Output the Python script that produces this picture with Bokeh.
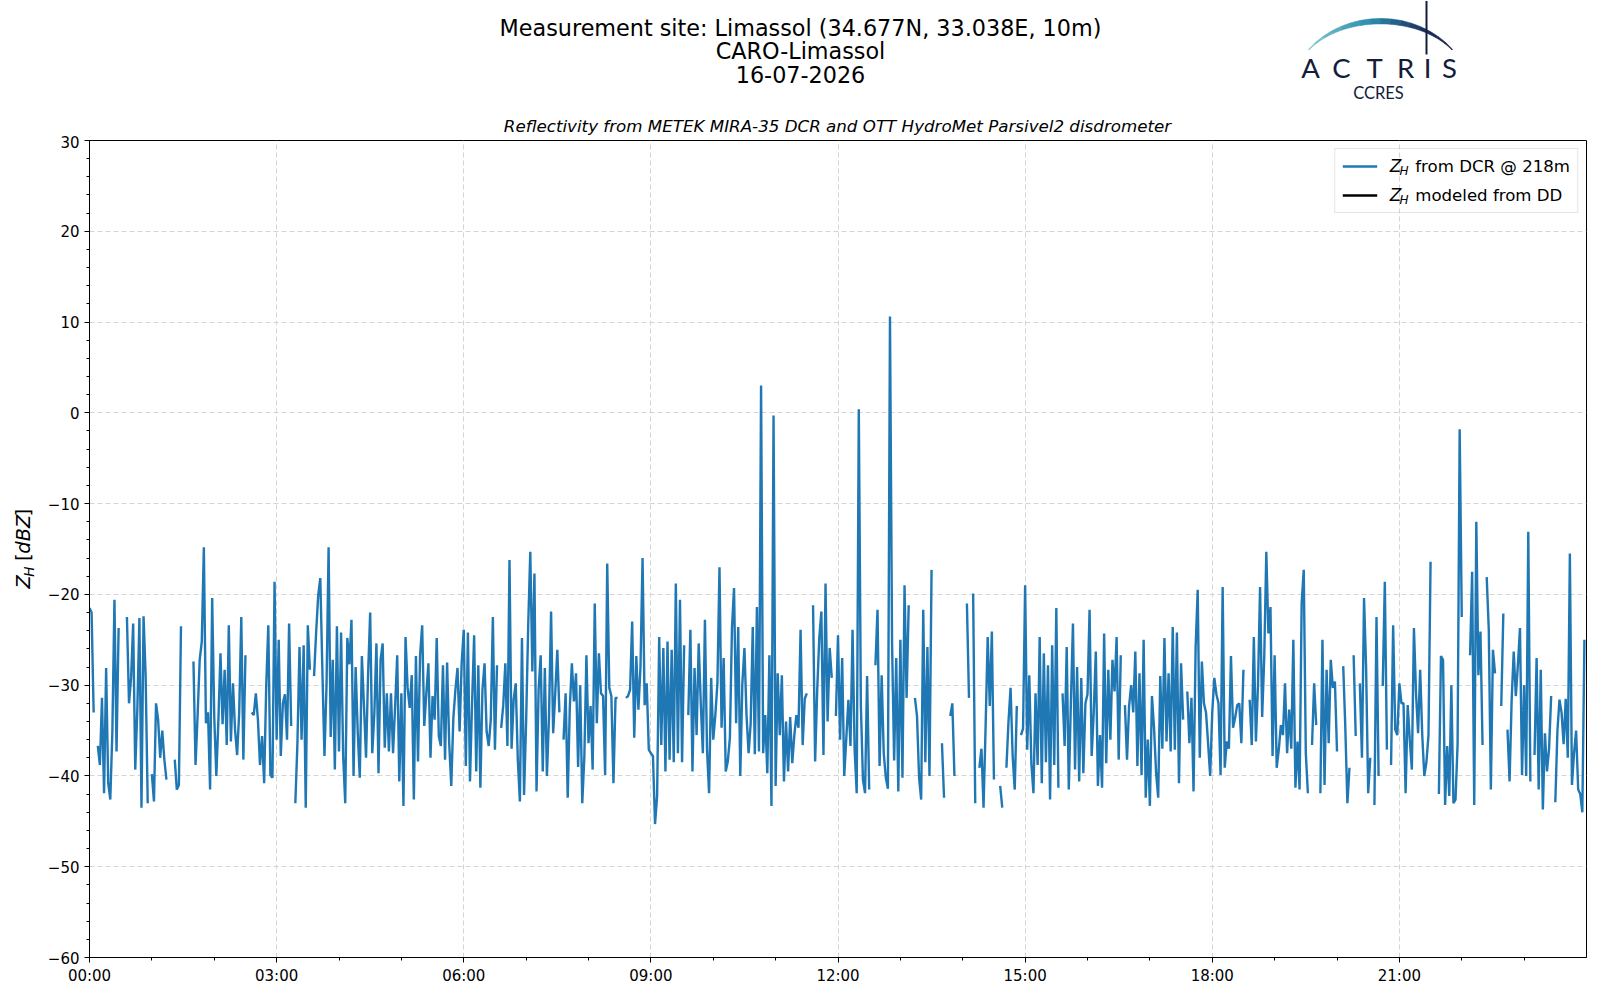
import math
import numpy as np
from bokeh.plotting import figure
from bokeh.layouts import column, row
from bokeh.models import (ColumnDataSource, Range1d, FixedTicker, Label, Legend,
                          LegendItem)
from bokeh.core.properties import value
from bokeh.embed import file_html
from bokeh.resources import INLINE

N = None
# Z_H from DCR @ 218m, 2-minute samples, one list per hour (dBZ), None = no data
zh_h00 = [-21.5, -22.0, -33.0, N, -36.7, -38.8, -31.4, -41.9, -28.1, -40.8, -42.6, -35.1, -20.6, -37.3, -23.7, N, N, N, -22.5, -32.0, -29.2, -23.2, -39.3, -32.7, -22.6, -43.5, -22.4, -29.0, -43.0, N]
zh_h01 = [-39.8, -42.8, -32.0, -33.8, -38.0, -35.0, -38.2, -40.4, N, N, N, -38.2, -41.5, -41.0, -23.5, N, N, N, N, N, -27.4, -38.8, -33.3, -27.2, -25.2, -14.8, -34.2, -33.0, -41.5, -20.4]
zh_h02 = [-33.5, -40.0, -33.8, -26.5, -34.3, -28.3, -36.6, -23.4, -36.2, -29.8, -34.9, -37.7, -33.0, -22.5, -38.2, -26.7, N, N, -33.0, -33.3, -30.9, -33.8, -38.8, -35.6, -40.8, -30.0, -23.4, -39.9, -40.2, -18.6]
zh_h03 = [-36.0, -25.0, -37.8, -32.0, -31.0, -36.0, -23.2, -34.5, N, -43.0, -36.4, -25.8, -36.0, -25.6, -43.5, -23.4, -28.3, N, -29.0, -24.2, -20.1, -18.2, -28.3, -37.8, -30.0, -14.8, -35.7, -27.2, -39.3, -23.5]
zh_h04 = [-37.3, -24.2, -37.8, -43.0, -24.8, -27.7, -22.8, -40.0, -28.0, -35.1, -40.2, -26.8, -32.2, -38.0, -28.7, -22.0, -37.5, -33.1, -25.4, -39.7, -27.2, -25.4, -36.9, -30.9, -37.3, -30.9, -37.5, -32.3, -26.7, -40.6]
zh_h05 = [-30.9, -43.3, -24.7, -30.3, -32.5, -28.9, -42.6, -26.8, -38.4, -26.7, -23.4, -34.5, -30.9, -27.6, -38.0, -31.2, -33.8, -24.8, -35.6, -36.7, -27.8, -38.2, -27.5, -36.4, -41.1, -33.6, -30.5, -28.1, -35.1, -27.6]
zh_h06 = [-23.9, -38.9, -24.2, -40.6, -32.0, -24.5, -39.5, -27.8, -41.3, -30.5, -27.6, -35.1, -36.7, -33.8, -22.5, -37.1, -27.8, N, -34.7, -32.2, -27.6, -36.7, -16.2, -37.0, -31.6, -29.8, -38.2, -42.8, -24.8, -42.1]
zh_h07 = [-34.0, -23.4, -15.3, -28.5, -17.7, -41.7, -30.5, -26.7, -39.5, -28.1, -40.0, -33.5, -21.9, -35.3, -30.9, -26.1, -33.0, N, -36.0, -30.9, -42.4, -32.5, -27.6, -31.8, -28.7, -39.0, -30.0, -43.0, -37.9, -26.7]
zh_h08 = [-36.4, -32.3, -39.3, -21.0, -34.2, -26.5, -30.9, -31.2, -39.9, -16.6, -30.3, -31.2, -40.8, -31.4, -31.4, N, N, N, -31.4, -31.2, -30.5, -23.0, -35.8, -26.8, -32.7, -28.0, -16.0, -32.2, -29.8, -37.1]
zh_h09 = [-37.5, -37.8, -45.3, -42.2, -24.7, -36.6, -25.9, -39.5, -25.2, -38.2, -26.1, -38.5, -18.8, -37.5, -20.6, -38.5, -25.6, N, -33.3, -23.9, -39.5, -28.1, -35.5, -25.4, -32.0, -37.5, -22.8, -37.1, -41.9, -29.2]
zh_h10 = [-36.0, -33.3, -29.8, -17.0, -34.7, -27.0, -39.5, -38.4, -35.8, -23.7, -19.3, -34.2, -23.6, -40.0, -29.8, -25.9, -33.3, -37.5, -34.2, -23.6, -37.6, -21.4, -37.3, 3.0, -37.5, -33.3, -39.7, -26.7, -43.3, -0.3]
zh_h11 = [-41.1, -28.7, -35.5, -28.9, -40.6, -34.0, -39.5, -33.5, -38.6, -35.5, -33.3, -34.7, -23.9, -36.6, -31.5, -30.9, N, N, -21.2, -38.4, -30.5, -24.8, -21.9, -37.7, -18.8, -34.0, -25.9, -29.2, N, -33.4]
zh_h12 = [-24.5, -36.0, -27.0, -40.0, -35.8, -31.6, -36.7, -23.9, -37.1, -41.9, 0.4, -32.3, -40.4, -41.9, -29.0, -41.5, N, N, -27.8, -21.7, -38.9, -28.9, -37.5, -40.2, -41.4, 10.6, -25.4, -38.3, -27.0, -41.7]
zh_h13 = [-25.0, -40.2, -19.0, -31.4, -21.2, N, N, -31.4, -33.4, -40.2, -42.6, -21.7, -38.5, -25.8, -40.0, -17.3, N, N, N, N, -36.4, -42.4, N, N, -33.4, -32.0, -40.0, N, N, N]
zh_h14 = [N, N, -21.0, -31.4, N, -19.9, -43.0, N, -39.1, -37.0, -43.5, -34.5, -24.7, -32.3, -24.1, -40.4, N, N, -41.1, -43.5, N, -39.1, -34.0, -30.3, -37.8, -41.5, -32.3, N, -35.5, -34.8]
zh_h15 = [-19.0, -37.1, -28.9, -38.6, -41.9, -30.9, -38.8, -24.7, -40.8, -26.5, -38.5, -27.8, -42.6, -25.6, -38.8, -21.5, -41.3, N, -30.9, -36.7, -25.8, -41.5, -32.0, -23.2, -39.3, -28.0, -40.6, -29.2, -39.7, -32.0]
zh_h16 = [-31.0, -21.7, -37.8, -33.0, -26.3, -41.1, -35.5, -41.3, -24.3, -38.6, -28.3, -36.0, -27.2, -30.7, -24.7, -38.2, -26.7, N, -32.2, -38.2, -32.3, -30.0, -33.0, -26.3, -38.9, -28.7, -39.9, -25.0, -42.4, -36.0]
zh_h17 = [-43.3, -31.2, -34.7, -39.7, -42.4, -29.0, -37.0, -24.8, -36.2, -28.7, -37.3, -23.6, -37.1, -24.2, -40.8, -27.6, -33.8, N, -30.7, -36.4, -31.4, -41.7, -25.9, -19.5, -38.0, -27.4, -32.0, -33.0, -36.4, -40.0]
zh_h18 = [-33.0, -29.2, -31.0, -32.0, -39.9, -19.2, -39.1, -36.2, -37.0, -26.8, -34.7, -33.6, -32.2, -32.0, -36.4, -28.3, N, N, -31.6, -36.6, -24.7, -36.2, -30.0, -19.2, -33.5, -27.0, -15.3, -24.3, -21.4, -37.8]
zh_h19 = [-26.7, -39.1, -37.1, -34.4, -35.5, -29.8, -37.5, -32.7, -37.0, -25.0, -41.3, -36.2, -41.5, -21.0, -17.3, -37.5, -41.9, N, -36.6, -29.8, -34.4, N, -41.9, -25.0, -41.0, -28.3, -36.4, -27.2, -30.3, -29.6]
zh_h20 = [-37.3, N, N, -27.9, -34.7, -43.0, -39.1, N, -26.7, -35.6, N, -29.8, -38.0, -20.4, -28.1, -41.9, -38.0, N, -43.2, -22.5, -40.0, N, -30.1, -18.6, -37.1, N, -38.8, -23.4, -34.9, -35.5]
zh_h21 = [-29.8, -32.0, -32.0, -41.9, -32.2, -36.0, -39.3, -23.7, -30.9, -35.3, -28.3, -35.5, -40.0, -38.5, -35.5, -16.4, N, N, N, -42.0, -26.8, -27.2, -43.2, -36.7, -42.2, -30.0, -43.0, -42.6, -36.5, -1.8]
zh_h22 = [-22.5, N, N, N, -26.7, -17.5, -43.2, -12.0, -28.9, -24.1, -36.6, N, -18.1, -23.9, -41.5, -26.1, -28.7, N, N, -32.3, -22.1, N, -34.9, -40.6, -31.6, -26.3, -31.2, -27.8, -23.7, -39.9]
zh_h23 = [-30.0, -40.0, -13.1, -40.6, N, -37.7, -27.0, -41.5, -28.3, -43.7, -35.3, -39.5, -37.0, -31.2, N, -42.9, -35.1, -31.6, -33.0, -36.5, -31.5, -38.0, -15.5, -41.0, -37.5, -35.0, -41.5, -42.0, -44.0, -25.0]
# Z_H modeled from disdrometer: no valid data on this day
zh_dd = [N]

step_minutes = 2
x_tick_hours = [0, 3, 6, 9, 12, 15, 18, 21]
x_tick_labels = ["00:00", "03:00", "06:00", "09:00", "12:00", "15:00", "18:00", "21:00"]
x_minor_hours = [1, 2, 4, 5, 7, 8, 10, 11, 13, 14, 16, 17, 19, 20, 22, 23]
y_ticks = [-60, -50, -40, -30, -20, -10, 0, 10, 20, 30]
y_minor = [v for v in range(-60, 31, 2) if v % 10 != 0]

title_lines = ["Measurement site: Limassol (34.677N, 33.038E, 10m)", "CARO-Limassol", "16-07-2026"]
subtitle = "Reflectivity from METEK MIRA-35 DCR and OTT HydroMet Parsivel2 disdrometer"
legend_labels = ["from DCR @ 218m", "modeled from DD"]

hour_blocks = [zh_h00, zh_h01, zh_h02, zh_h03, zh_h04, zh_h05, zh_h06, zh_h07,
               zh_h08, zh_h09, zh_h10, zh_h11, zh_h12, zh_h13, zh_h14, zh_h15,
               zh_h16, zh_h17, zh_h18, zh_h19, zh_h20, zh_h21, zh_h22, zh_h23]
zh = np.array([v for blk in hour_blocks for v in blk], dtype=float)
t_hours = np.arange(len(zh)) * step_minutes / 60.0

# ------------------------------------------------------------------ geometry
PAGE_W = 1592
HDR_H = 135            # header strip height
YL_W = 44              # y-label strip width
FL, FT, FW, FH = 88.0, 140.0, 1498.0, 817.0   # main frame in page pixels
MAIN_TOP = int(FT - HDR_H)
MAIN_BOTTOM = 35
MAIN_H = MAIN_TOP + int(FH) + MAIN_BOTTOM
X0, X1, Y0, Y1 = 0.0, 24.0, -60.0, 30.0
navy = "#141c3c"
FONT = value("DejaVu Sans")


def bare(fig):
    fig.outline_line_color = None
    fig.grid.visible = False
    fig.background_fill_color = "white"
    fig.border_fill_color = "white"
    return fig


# ------------------------------------------------------------------ header
hdr = bare(figure(width=PAGE_W, height=HDR_H, x_range=Range1d(0, PAGE_W),
                  y_range=Range1d(HDR_H, 0), x_axis_location=None, y_axis_location=None,
                  min_border=0, toolbar_location=None, output_backend="svg"))
hdr.text(x=[800, 800, 800], y=[27.8, 50.5, 73.8], text=title_lines, text_font=FONT,
         text_font_size="22.3px", text_align="center", text_baseline="alphabetic",
         text_color="black")
hdr.text(x=[837], y=[125.8], text=[subtitle], text_font=FONT, text_font_size="16.7px",
         text_font_style="italic", text_align="center", text_baseline="alphabetic",
         text_color="black")
hdr.text(x=[1310, 1341, 1374, 1405, 1427, 1449], y=[66.5] * 6, text=list("ACTRIS"),
         text_font=value("Lato"), text_font_size="27.5px", text_align="center",
         text_baseline="alphabetic", text_color=navy)
hdr.text(x=[1378], y=[92.8], text=["CCRES"], text_font=value("Lato"),
         text_font_size="16.5px", text_align="center", text_baseline="alphabetic",
         text_color=navy)

# logo arc (decoration): crescent split in pieces with a teal-to-navy gradient
stops = [(0.0, (132, 205, 200)), (0.45, (42, 138, 176)), (0.75, (30, 52, 98)), (1.0, (20, 26, 58))]


def grad(u):
    for (ua, ca), (ub, cb) in zip(stops[:-1], stops[1:]):
        if ua <= u <= ub:
            f = (u - ua) / (ub - ua)
            c = [round(a + (b - a) * f) for a, b in zip(ca, cb)]
            return "#%02x%02x%02x" % tuple(c)
    return "#%02x%02x%02x" % stops[-1][1]


acx, acy, arx, ary = 1380.0, 100.0, 92.0, 82.0
phi0, phi1 = math.radians(141.5), math.radians(38.5)
npieces = 16
arc_xs, arc_ys, arc_cols = [], [], []
for k in range(npieces):
    ua, ub = k / npieces, (k + 1) / npieces
    us = [ua + (ub - ua) * j / 4 for j in range(5)]
    outer, inner = [], []
    for u in us:
        ph = phi0 + (phi1 - phi0) * u
        th = 0.8 + 4.6 * math.sin(math.pi * u) ** 1.3
        outer.append((acx + arx * math.cos(ph), acy - ary * math.sin(ph)))
        inner.append((acx + (arx - th) * math.cos(ph), acy - (ary - th) * math.sin(ph)))
    pts = outer + inner[::-1]
    arc_xs.append([a for a, b in pts])
    arc_ys.append([b for a, b in pts])
    arc_cols.append(grad((ua + ub) / 2))
hdr.patches(xs=arc_xs, ys=arc_ys, fill_color=arc_cols, line_color=arc_cols, line_width=0.6)
hdr.line(x=[1426, 1426], y=[0.5, 54], line_color=navy, line_width=2)

# ------------------------------------------------------------------ y label strip
ylab = bare(figure(width=YL_W, height=MAIN_H, x_range=Range1d(0, YL_W),
                   y_range=Range1d(HDR_H + MAIN_H, HDR_H), x_axis_location=None,
                   y_axis_location=None, min_border=0, toolbar_location=None,
                   output_backend="svg"))
rot = math.pi / 2
ylab.text(x=[23, 23, 23], y=[605, 576, 529.5], text=["Z", "[", "]"], text_font=FONT,
          text_font_size="19.4px", text_font_style=["italic", "normal", "normal"],
          text_align="left", text_baseline="alphabetic", angle=rot, text_color="black")
ylab.text(x=[23], y=[568.4], text=["dBZ"], text_font=FONT, text_font_size="19.4px",
          text_font_style="italic", text_align="left", text_baseline="alphabetic",
          angle=rot, text_color="black")
ylab.text(x=[28.5], y=[592.5], text=["H"], text_font=FONT, text_font_size="13.6px",
          text_font_style="italic", text_align="left", text_baseline="alphabetic",
          angle=rot, text_color="black")

# ------------------------------------------------------------------ main plot
p = figure(width=PAGE_W - YL_W, height=MAIN_H, output_backend="svg", toolbar_location=None,
           x_range=Range1d(X0, X1), y_range=Range1d(Y0, Y1),
           min_border_left=int(FL - YL_W), min_border_right=int(PAGE_W - FL - FW),
           min_border_top=MAIN_TOP, min_border_bottom=MAIN_BOTTOM,
           background_fill_color="white", border_fill_color="white")
p.outline_line_color = "black"
p.outline_line_width = 1

p.xaxis.ticker = FixedTicker(ticks=x_tick_hours, minor_ticks=x_minor_hours)
p.xaxis.major_label_overrides = {h: s for h, s in zip(x_tick_hours, x_tick_labels)}
p.yaxis.ticker = FixedTicker(ticks=y_ticks, minor_ticks=y_minor)
p.yaxis.major_label_overrides = {v: str(v).replace("-", "\u2212") for v in y_ticks}
for ax in (p.xaxis[0], p.yaxis[0]):
    ax.axis_line_color = "black"
    ax.major_tick_line_color = "black"
    ax.minor_tick_line_color = "black"
    ax.major_tick_out = 5
    ax.major_tick_in = 0
    ax.minor_tick_out = 3
    ax.minor_tick_in = 0
    ax.major_label_text_font = "DejaVu Sans"
    ax.major_label_text_font_size = "15px"
    ax.major_label_text_color = "black"
p.xaxis.major_label_standoff = 4
p.yaxis.major_label_standoff = 5

for g in (p.xgrid[0], p.ygrid[0]):
    g.grid_line_color = "#d4d4d4"
    g.grid_line_dash = "5 3"
    g.grid_line_width = 1

src = ColumnDataSource(data=dict(t=t_hours, zh=zh))
r_dcr = p.line(x="t", y="zh", source=src, line_color="#1f77b4", line_width=2.4)
dd = np.array(zh_dd, dtype=float)
src_dd = ColumnDataSource(data=dict(t=np.zeros(len(dd)), zh=dd))
r_dd = p.line(x="t", y="zh", source=src_dd, line_color="black", line_width=2.4)

legend = Legend(items=[LegendItem(label=legend_labels[0], renderers=[r_dcr]),
                       LegendItem(label=legend_labels[1], renderers=[r_dd])],
                location="top_right", margin=8, padding=7, spacing=9,
                glyph_width=35, glyph_height=20, label_height=20, label_standoff=38,
                label_text_font="DejaVu Sans", label_text_font_size="16.6px",
                label_text_color="black",
                border_line_color="#cccccc", border_line_width=1,
                background_fill_color="white", background_fill_alpha=0.0)
p.add_layout(legend)


def X(px):
    return X0 + (px - FL) / FW * (X1 - X0)


def Y(py):
    return Y1 - (py - FT) / FH * (Y1 - Y0)


# Z_H prefixes of the legend labels
for row_y in (165, 194):
    p.add_layout(Label(x=X(1389), y=Y(row_y), text="Z", text_font="DejaVu Sans",
                       text_font_size="17px", text_font_style="italic", text_align="left",
                       text_baseline="middle", text_color="black", level="overlay"))
    p.add_layout(Label(x=X(1399), y=Y(row_y + 5), text="H", text_font="DejaVu Sans",
                       text_font_size="12px", text_font_style="italic", text_align="left",
                       text_baseline="middle", text_color="black", level="overlay"))

layout = column(hdr, row(ylab, p))
open("out.html", "w").write(file_html(layout, INLINE))
